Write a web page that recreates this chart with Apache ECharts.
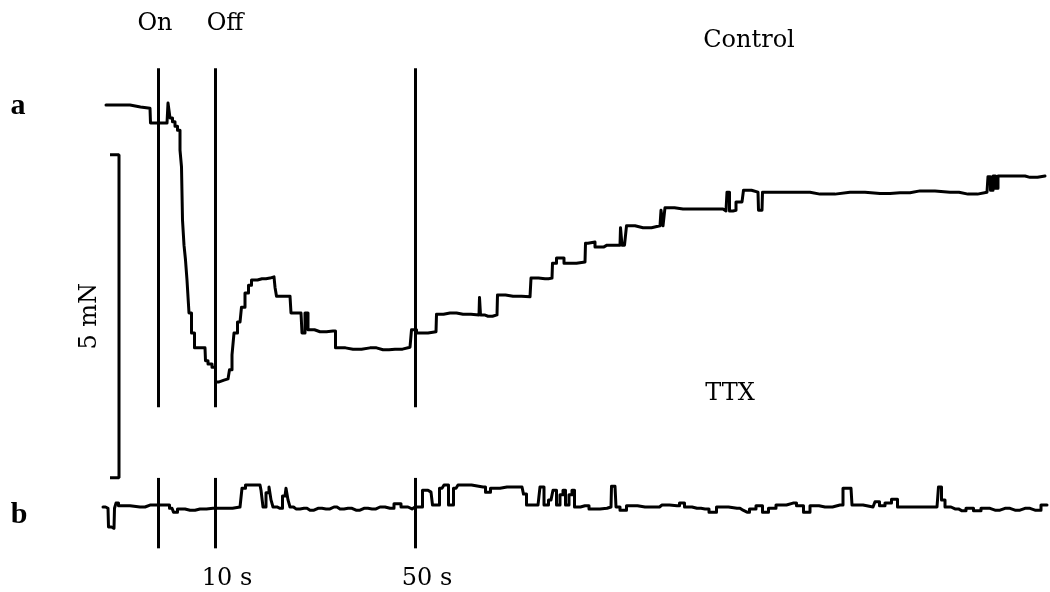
<!DOCTYPE html>
<html>
<head>
<meta charset="utf-8">
<script src="https://cdn.jsdelivr.net/npm/echarts@6/dist/echarts.min.js"></script>
<style>
html,body{margin:0;padding:0;background:#fff;}
#chart{width:1050px;height:592px;}
</style>
</head>
<body>
<div id="chart"></div>
<script>
// Time in seconds (stimulus On = 0), force in mN relative to each trace's baseline
var controlTrace = [
  [-10.4,0],[-5.6,0],[-5.4,-0.03],[-1.6,-0.05],[-1.4,-0.28],[1.8,-0.28],[2.2,0.03],[2.6,-0.2],
  [3.2,-0.26],[3.6,-0.33],[4.2,-0.39],[4.6,-0.7],[4.8,-0.96],[5.0,-1.78],[5.4,-2.17],[5.6,-2.4],
  [6.0,-2.71],[6.4,-3.22],[7.0,-3.53],[7.6,-3.76],[9.4,-3.76],[9.6,-3.96],[10.4,-4.01],[11.2,-4.06],
  [11.8,-4.29],[12.4,-4.26],[14.0,-4.24],[14.6,-4.1],[15.0,-3.87],[15.4,-3.53],[16.4,-3.36],[17.0,-3.13],
  [17.8,-2.91],[18.4,-2.79],[19.0,-2.71],[20.8,-2.69],[22.4,-2.68],[23.2,-2.66],[23.6,-2.82],[23.8,-2.96],
  [26.4,-2.96],[26.8,-3.22],[28.6,-3.22],[29.0,-3.53],[29.8,-3.22],[30.2,-3.48],[32.4,-3.51],[35.0,-3.5],
  [36.0,-3.76],[39.0,-3.78],[42.4,-3.76],[45.0,-3.79],[47.4,-3.78],[50.4,-3.75],[51.0,-3.48],[52.4,-3.53],
  [55.6,-3.51],[55.8,-3.24],[58.4,-3.22],[61.0,-3.24],[64.2,-3.25],[64.4,-2.98],[64.6,-3.25],[66.0,-3.27],
  [67.8,-3.25],[68.0,-2.94],[71.0,-2.96],[74.4,-2.97],[74.8,-2.68],[77.4,-2.69],[78.8,-2.68],[79.0,-2.45],
  [80.4,-2.37],[82.0,-2.45],[85.4,-2.43],[85.6,-2.14],[86.4,-2.12],[88.4,-2.2],[89.8,-2.17],[92.4,-2.17],
  [92.6,-1.9],[93.0,-2.17],[93.6,-2.17],[93.8,-1.87],[97.0,-1.9],[100.4,-1.87],[100.8,-1.63],[101.2,-1.87],
  [101.6,-1.59],[105.0,-1.61],[108.4,-1.61],[112.4,-1.61],[113.6,-1.64],[114.0,-1.35],[114.6,-1.64],[115.4,-1.63],
  [115.8,-1.5],[116.8,-1.5],[117.4,-1.32],[120.0,-1.35],[120.2,-1.63],[120.8,-1.63],[121.0,-1.35],[128.4,-1.35],
  [132.4,-1.38],[138.4,-1.35],[144.4,-1.37],[148.4,-1.36],[152.4,-1.33],[158.4,-1.35],[162.0,-1.38],[165.8,-1.35],
  [166.2,-1.11],[166.8,-1.32],[167.2,-1.1],[167.8,-1.29],[168.2,-1.1],[172.4,-1.1],[174.4,-1.12],[177.4,-1.1]
];
var ttxTrace = [
  [-11,0],[-10,-0.02],[-9.8,-0.31],[-8.8,-0.33],[-8.6,-0.02],[-8.2,0.06],[-7.6,0.02],[-3.6,0],
  [-1.6,0.03],[1.8,0.03],[2.8,-0.02],[3.4,-0.08],[4.4,-0.03],[6.4,-0.05],[8.4,-0.03],[11.0,-0.02],
  [13.4,-0.02],[16.4,0],[17.2,0.29],[17.8,0.34],[20.4,0.34],[20.8,0.26],[21.2,0],[22.0,0.22],
  [22.4,0.31],[22.8,0.11],[23.2,0],[24.4,-0.02],[25.4,0.17],[25.8,0.29],[26.2,0.11],[26.6,0],
  [27.6,-0.03],[29.2,-0.02],[30.4,-0.05],[32.0,-0.02],[33.6,-0.03],[35.2,0],[36.4,-0.03],[38.0,-0.02],
  [39.6,-0.05],[41.2,-0.02],[42.8,-0.03],[44.4,0],[46.4,-0.02],[48.0,0.05],[49.2,0],[50.8,-0.03],
  [51.4,0],[52.4,0],
  [53.4,0.26],[54.6,0.23],[55.2,0.03],[55.8,0.03],[56.8,0.29],[57.6,0.34],[58.6,0.03],[59.6,0.29],
  [60.4,0.34],[65.0,0.31],[66.0,0.23],[67.0,0.29],[69.8,0.31],[72.8,0.31],[73.4,0.2],[74.0,0.03],
  [76.0,0.03],[76.8,0.31],[77.6,0.03],[78.6,0.11],[79.4,0.26],[80.0,0.03],[80.8,0.19],[81.2,0.26],
  [81.8,0.03],[82.6,0.19],[83.0,0.26],[83.6,0],[85.4,0.02],[87.0,-0.03],[89.8,-0.02],[90.6,0],
  [90.8,0.32],[91.4,0.32],[91.8,0],[93.0,-0.05],[94.4,0.02],[97.4,0],[99.8,0],[100.8,0.03],
  [103.8,0.02],[104.8,0.06],[105.8,0],[107.8,-0.02],[109.4,-0.03],[111.0,-0.08],[112.4,0],[115.8,-0.02],
  [117.0,-0.05],[117.8,-0.08],[118.8,-0.03],[120.4,0.02],[121.4,-0.08],[122.8,-0.02],[124.4,0.03],[127.0,0.06],
  [128.4,0.02],[129.8,-0.08],[131.0,0.02],[133.4,0],[136.4,0.03],[137.6,0.29],[138.6,0.29],[139.0,0.03],
  [143.0,0],[143.8,0.08],[144.8,0.02],[146.0,0.06],[147.4,0.12],[148.4,0],[151.4,0],[155.8,0],
  [156.4,0.31],[157.0,0.11],[157.8,0],[159.4,-0.03],[160.8,-0.06],[162.4,-0.02],[163.8,-0.06],[165.4,-0.02],
  [167.4,-0.05],[169.4,-0.02],[171.4,-0.05],[173.4,-0.02],[175.4,-0.05],[177.8,0.03]
];
var eventTimes = [0, 11.4, 51.4];
var eventLabels = ['On', 'Off', ''];
var timeTickTimes = [11.4, 51.4];
var timeTickLabels = ['10 s', '50 s'];
var scaleBarTime = -7.8;
var scaleBarTop = -0.77;
var scaleBarSize = 5; // mN

var chart = echarts.init(document.getElementById('chart'), null, {renderer: 'canvas'});

var upperMarks = eventTimes.map(function (t) {
  return [{coord: [t, 0.57]}, {coord: [t, -4.68]}];
});
var lowerMarks = eventTimes.map(function (t) {
  return [{coord: [t, 0.45]}, {coord: [t, -0.64]}];
});

var TXT = '24px "DejaVu Serif"';
var graphics = [];
function addText(txt, x, y, font, rot) {
  graphics.push({
    type: 'text', x: x, y: y, rotation: rot || 0, silent: true,
    style: {text: txt, font: font || TXT, fill: '#000', align: 'center', verticalAlign: 'middle'}
  });
}

var option = {
  animation: false,
  backgroundColor: '#fff',
  grid: {left: 0, right: 0, top: 0, bottom: 0},
  xAxis: {type: 'value', min: -31.6, max: 178.4, show: false},
  yAxis: [
    {type: 'value', min: -7.539, max: 1.625, show: false},
    {type: 'value', min: -1.316, max: 7.848, show: false}
  ],
  series: [
    {
      name: 'Control', type: 'line', yAxisIndex: 0, data: controlTrace, showSymbol: false, step: 'middle',
      lineStyle: {color: '#000', width: 3, join: 'round', cap: 'round'}, silent: true,
      markLine: {symbol: ['none', 'none'], silent: true, label: {show: false},
        lineStyle: {color: '#000', width: 3, type: 'solid'}, data: upperMarks}
    },
    {
      name: 'TTX', type: 'line', yAxisIndex: 1, data: ttxTrace, showSymbol: false, step: 'middle',
      lineStyle: {color: '#000', width: 3, join: 'round', cap: 'round'}, silent: true,
      markLine: {symbol: ['none', 'none'], silent: true, label: {show: false},
        lineStyle: {color: '#000', width: 3, type: 'solid'}, data: lowerMarks}
    },
    {
      name: 'scale', type: 'line', yAxisIndex: 0, showSymbol: false, silent: true,
      lineStyle: {color: '#000', width: 3},
      data: [[scaleBarTime - 1.8, scaleBarTop], [scaleBarTime, scaleBarTop],
             [scaleBarTime, scaleBarTop - scaleBarSize], [scaleBarTime - 1.8, scaleBarTop - scaleBarSize]]
    }
  ],
  graphic: graphics
};
chart.setOption(option);

function px(t, y, idx) { return chart.convertToPixel({xAxisIndex: 0, yAxisIndex: idx}, [t, y]); }
var onP = px(eventTimes[0], 0, 0), offP = px(eventTimes[1], 0, 0);
addText(eventLabels[0], onP[0] - 3, 24);
addText(eventLabels[1], offP[0] + 10, 24);
addText('Control', 749, 41);
addText('TTX', 730, 394);
timeTickTimes.forEach(function (t, i) {
  var p = px(t, 0, 0);
  addText(timeTickLabels[i], p[0] + 12, 579);
});
var sb = px(scaleBarTime, scaleBarTop - scaleBarSize / 2, 0);
addText(scaleBarSize + ' mN', sb[0] - 29, sb[1], TXT, Math.PI / 2);
addText('a', 18, 106, 'bold 30px "Liberation Serif"');
addText('b', 19, 515, 'bold 30px "Liberation Serif"');
chart.setOption({graphic: graphics});
</script>
</body>
</html>
